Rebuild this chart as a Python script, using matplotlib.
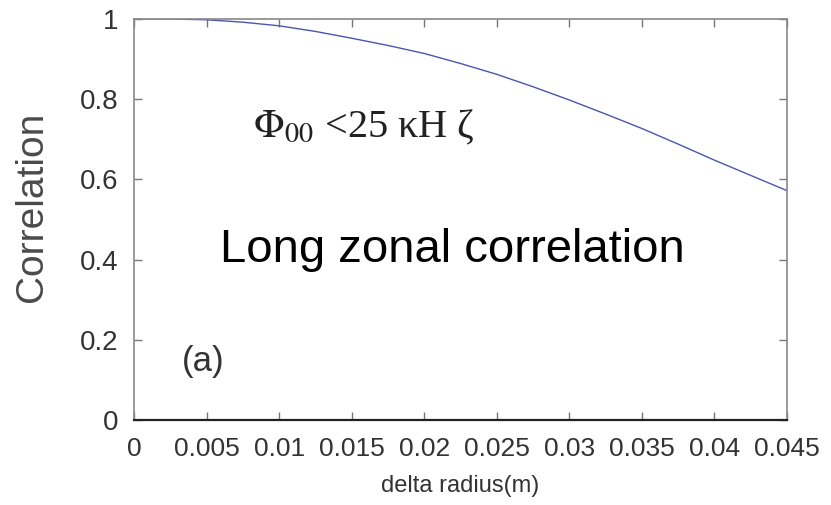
import matplotlib
matplotlib.use("Agg")
import matplotlib.pyplot as plt

# correlation vs radial separation
delta_r = [0.0, 0.0025, 0.005, 0.0075, 0.01, 0.0125, 0.015, 0.0175, 0.02, 0.0225,
           0.025, 0.0275, 0.03, 0.0325, 0.035, 0.0375, 0.04, 0.0425, 0.045]
corr = [1.0, 1.0, 0.998, 0.992, 0.983, 0.969, 0.952, 0.934, 0.914, 0.889,
        0.862, 0.831, 0.798, 0.763, 0.727, 0.688, 0.648, 0.610, 0.572]

x_ticks = [0, 0.005, 0.01, 0.015, 0.02, 0.025, 0.03, 0.035, 0.04, 0.045]
x_labels = ['0', '0.005', '0.01', '0.015', '0.02', '0.025', '0.03', '0.035', '0.04', '0.045']
y_ticks = [0, 0.2, 0.4, 0.6, 0.8, 1]
y_labels = ['0', '0.2', '0.4', '0.6', '0.8', '1']

plt.rcParams['mathtext.fontset'] = 'stix'
SANS = ['Liberation Sans', 'DejaVu Sans']
GREY_TXT = '#333333'

fig = plt.figure(figsize=(8.31, 5.05), dpi=100)
ax = fig.add_axes([0.1613, 0.1683, 0.7857, 0.7941])

ax.plot(delta_r, corr, color='#4a56b0', lw=1.0)

ax.set_xlim(0, 0.045)
ax.set_ylim(0, 1)
ax.set_xticks(x_ticks)
ax.set_xticklabels(x_labels, family=SANS, fontsize=19, color=GREY_TXT)
ax.set_yticks(y_ticks)
ax.set_yticklabels(y_labels, family=SANS, fontsize=20, color=GREY_TXT)
ax.tick_params(direction='in', length=6, width=1.0, color='#777777',
               top=True, right=True)
ax.tick_params(axis='x', pad=12)
ax.tick_params(axis='y', pad=11.5)

for side in ['left', 'top', 'right']:
    ax.spines[side].set_color('#888888')
    ax.spines[side].set_linewidth(1.2)
ax.spines['bottom'].set_color('#222222')
ax.spines['bottom'].set_linewidth(1.6)

ax.set_xlabel('delta radius(m)', family=SANS, fontsize=17, color=GREY_TXT, labelpad=10)
ax.set_ylabel('Correlation', family=SANS, fontsize=28, color='#4a4a4a')
ax.yaxis.set_label_coords(-0.128, 0.531)

ax.text(0.0082, 0.705, r'$\Phi_{00}$ <25 κH ζ', family='Liberation Serif',
        fontsize=29, color='#222222', va='baseline', ha='left')
ax.text(0.0059, 0.394, 'Long zonal correlation', family=SANS,
        fontsize=34, color='black', va='baseline', ha='left')
ax.text(0.0033, 0.122, '(a)', family=SANS, fontsize=25, color=GREY_TXT,
        va='baseline', ha='left')

fig.savefig('out.png', dpi=100)
